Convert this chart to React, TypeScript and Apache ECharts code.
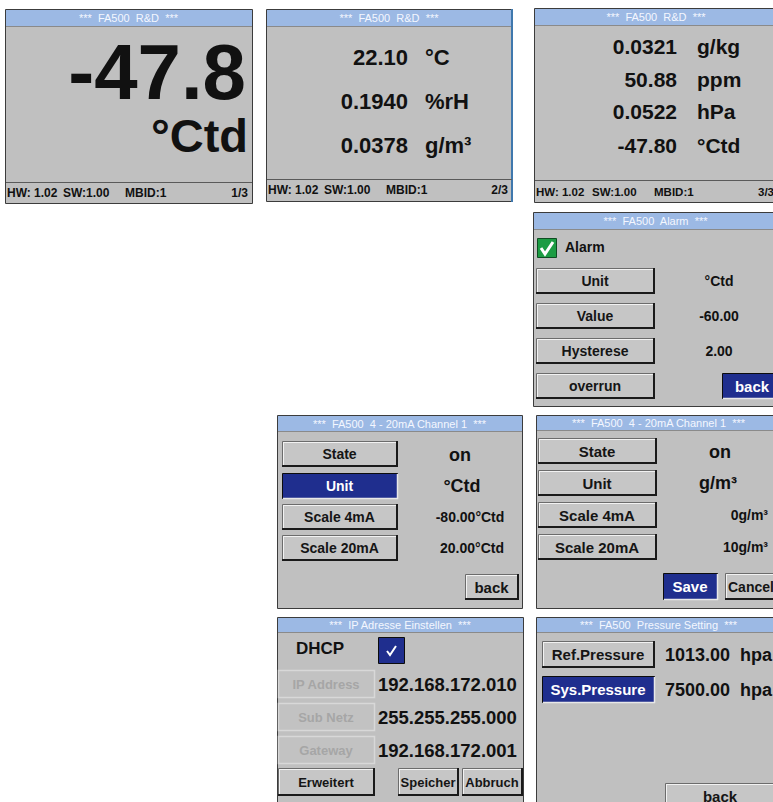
import React, { useEffect, useRef } from "react";
import * as echarts from "echarts";

// ---- data ----
const headerTitles = [
  "***  FA500  R&D  ***",
  "***  FA500  R&D  ***",
  "***  FA500  R&D  ***",
  "***  FA500  Alarm  ***",
  "***  FA500  4 - 20mA Channel 1  ***",
  "***  FA500  4 - 20mA Channel 1  ***",
  "***  IP Adresse Einstellen  ***",
  "***  FA500  Pressure Setting  ***",
];
const footerParts = ["HW: 1.02", "SW:1.00", "MBID:1"];
const pageNumbers = ["1/3", "2/3", "3/3"];
const page1Value = "-47.8";
const page1Unit = "°Ctd";
const page2Values = ["22.10", "0.1940", "0.0378"];
const page2Units = ["°C", "%rH", "g/m³"];
const page3Values = ["0.0321", "50.88", "0.0522", "-47.80"];
const page3Units = ["g/kg", "ppm", "hPa", "°Ctd"];
const alarmLabel = "Alarm";
const alarmButtons = ["Unit", "Value", "Hysterese", "overrun"];
const alarmValues = ["°Ctd", "-60.00", "2.00"];
const channelButtons = ["State", "Unit", "Scale 4mA", "Scale 20mA"];
const channelValuesA = ["on", "°Ctd", "-80.00°Ctd", "20.00°Ctd"];
const channelValuesB = ["on", "g/m³", "0g/m³", "10g/m³"];
const ipLabel = "DHCP";
const ipButtons = ["IP Address", "Sub Netz", "Gateway"];
const ipValues = ["192.168.172.010", "255.255.255.000", "192.168.172.001"];
const ipActions = ["Erweitert", "Speicher", "Abbruch"];
const pressureButtons = ["Ref.Pressure", "Sys.Pressure"];
const pressureValues = ["1013.00  hpa", "7500.00  hpa"];
const actionLabels = { back: "back", save: "Save", cancel: "Cancel" };

// ---- styles ----
const FONT = "'Liberation Sans', Arial, sans-serif";
const BG = "#c0c0c0";
const HEADER = "#9cb9e4";
const NAVY = "#1f2e8e";
const BORDER = "#3c3c3c";

function txt(x: number, y: number, text: string, size: number, o: any = {}) {
  const align = o.align || "left";
  const va = o.va || "middle";
  return {
    type: "text",
    x,
    y,
    z: 10,
    style: {
      text,
      font: `${o.weight || "bold"} ${size}px ${FONT}`,
      fill: o.fill || "#111",
      align,
      verticalAlign: va,
      textAlign: align,
      textVerticalAlign: va,
    },
  };
}

function line(x1: number, y1: number, x2: number, y2: number, stroke: string, lw = 1) {
  return { type: "line", z: 5, shape: { x1, y1, x2, y2 }, style: { stroke, lineWidth: lw } };
}

function panel(x: number, y: number, w: number, h: number, title: string, hh = 17, rightStroke?: string) {
  const els: any[] = [
    { type: "rect", z: 1, shape: { x: x + 0.5, y: y + 0.5, width: w, height: h }, style: { fill: BG, stroke: BORDER, lineWidth: 1 } },
    { type: "rect", z: 2, shape: { x: x + 1, y: y + 1, width: w - 1, height: hh - 1 }, style: { fill: HEADER } },
    line(x + 1, y + hh + 0.5, x + w, y + hh + 0.5, "#8a8a8a", 1),
    txt(x + w / 2, y + hh / 2 + 0.5, title, 11, { align: "center", weight: "normal", fill: "#f4f7ff" }),
  ];
  if (rightStroke) els.push(line(x + w, y, x + w, y + h + 1, rightStroke, 2));
  return els;
}

function button(x: number, y: number, w: number, h: number, label: string, kind: string, size: number, textX?: number) {
  const els: any[] = [];
  const tx = textX === undefined ? x + w / 2 : textX;
  const ta = textX === undefined ? "center" : "left";
  if (kind === "selected") {
    els.push({ type: "rect", z: 3, shape: { x: x + 0.5, y: y + 0.5, width: w, height: h }, style: { fill: NAVY, stroke: "#0c0c0c", lineWidth: 1 } });
    els.push(line(x + 1, y + h + 0.5, x + w + 1, y + h + 0.5, "#e8e8e8", 1.5));
    els.push(line(x + w + 0.5, y + 1, x + w + 0.5, y + h + 1, "#e8e8e8", 1.5));
    els.push(txt(tx, y + h / 2 + 0.5, label, size, { align: ta, fill: "#ffffff" }));
  } else if (kind === "disabled") {
    els.push({ type: "rect", z: 3, shape: { x: x + 0.5, y: y + 0.5, width: w, height: h }, style: { fill: "#c2c2c2", stroke: "#d8d8d8", lineWidth: 1.5 } });
    els.push(txt(tx, y + h / 2 + 0.5, label, size, { align: ta, fill: "#a6a6a6" }));
  } else {
    els.push({ type: "rect", z: 3, shape: { x: x + 0.5, y: y + 0.5, width: w, height: h }, style: { fill: "#c6c6c6", stroke: "#6c6c6c", lineWidth: 1 } });
    els.push(line(x + 1, y + 1.5, x + w, y + 1.5, "#f2f2f2", 1));
    els.push(line(x + 1.5, y + 1, x + 1.5, y + h, "#f2f2f2", 1));
    els.push(line(x, y + h, x + w + 1, y + h, "#1a1a1a", 2));
    els.push(line(x + w, y, x + w, y + h + 1, "#1a1a1a", 2));
    els.push(txt(tx, y + h / 2 + 0.5, label, size, { align: ta, fill: "#151515" }));
  }
  return els;
}

function footer(x: number, w: number, lineY: number, textY: number, page: string, size = 12) {
  const els: any[] = [line(x + 1, lineY + 0.5, x + w, lineY + 0.5, "#5a5a5a", 1)];
  const offs = [2, 58, 120];
  footerParts.forEach((p, i) => els.push(txt(x + offs[i], textY, p, size)));
  els.push(txt(x + w - 4, textY, page, size, { align: "right" }));
  return els;
}

function buildElements() {
  const els: any[] = [];
  // Panel 1
  els.push(...panel(5, 9, 247, 194, headerTitles[0]));
  els.push(txt(246, 72, page1Value, 78, { align: "right" }));
  els.push(txt(248, 135, page1Unit, 47, { align: "right" }));
  els.push(...footer(5, 247, 182, 193, pageNumbers[0]));

  // Panel 2
  els.push(...panel(266, 9, 246, 192, headerTitles[1], 17, "#3f78ad"));
  const p2y = [57, 101, 145];
  page2Values.forEach((v, i) => {
    els.push(txt(408, p2y[i], v, 22, { align: "right" }));
    els.push(txt(425, p2y[i], page2Units[i], 22));
  });
  els.push(...footer(266, 246, 179, 190, pageNumbers[1]));

  // Panel 3
  els.push(...panel(534, 8, 244, 194, headerTitles[2]));
  const p3y = [46, 79, 111, 145];
  page3Values.forEach((v, i) => {
    els.push(txt(677, p3y[i], v, 21, { align: "right" }));
    els.push(txt(697, p3y[i], page3Units[i], 21));
  });
  els.push(...footer(534, 244, 180, 192, pageNumbers[2], 11.5));

  // Panel 4 - Alarm
  els.push(...panel(533, 212, 245, 194, headerTitles[3]));
  els.push({ type: "rect", z: 3, shape: { x: 537.5, y: 238.5, width: 19, height: 19 }, style: { fill: "#1c9c43", stroke: "#0e4d22", lineWidth: 1 } });
  els.push({ type: "polyline", z: 4, shape: { points: [[541, 248], [545, 254], [553, 242]] }, style: { stroke: "#ffffff", lineWidth: 3, fill: "none" } });
  els.push(txt(565, 247, alarmLabel, 14));
  const abY = [268, 303, 338, 373];
  alarmButtons.forEach((b, i) => els.push(...button(536, abY[i], 118, 25, b, "raised", 14)));
  alarmValues.forEach((v, i) => els.push(txt(719, abY[i] + 13, v, 14, { align: "center" })));
  els.push(...button(722, 373, 60, 25, actionLabels.back, "selected", 15));

  // Panel 5 - Channel (°Ctd)
  els.push(...panel(277, 415, 245, 193, headerTitles[4], 16));
  const cbY5 = [441, 473, 504, 535];
  channelButtons.forEach((b, i) => els.push(...button(282, cbY5[i], 115, 25, b, i === 1 ? "selected" : "raised", 14)));
  els.push(txt(460, cbY5[0] + 14, channelValuesA[0], 18, { align: "center" }));
  els.push(txt(462, cbY5[1] + 13, channelValuesA[1], 18, { align: "center" }));
  els.push(txt(470, cbY5[2] + 13, channelValuesA[2], 14, { align: "center" }));
  els.push(txt(472, cbY5[3] + 13, channelValuesA[3], 14, { align: "center" }));
  els.push(...button(465, 574, 53, 25, actionLabels.back, "raised", 15));

  // Panel 6 - Channel (g/m³)
  els.push(...panel(536, 415, 245, 193, headerTitles[5], 15));
  const cbY6 = [438, 470, 502, 534];
  channelButtons.forEach((b, i) => els.push(...button(538, cbY6[i], 118, 25, b, "raised", 15)));
  els.push(txt(720, cbY6[0] + 14, channelValuesB[0], 18, { align: "center" }));
  els.push(txt(718, cbY6[1] + 13, channelValuesB[1], 18, { align: "center" }));
  els.push(txt(768, cbY6[2] + 13, channelValuesB[2], 14, { align: "right" }));
  els.push(txt(768, cbY6[3] + 13, channelValuesB[3], 14, { align: "right" }));
  els.push(...button(663, 573, 54, 26, actionLabels.save, "selected", 15));
  els.push(...button(725, 573, 60, 26, actionLabels.cancel, "raised", 14, 728));

  // Panel 7 - IP
  els.push(...panel(277, 617, 246, 200, headerTitles[6], 15));
  els.push(txt(320, 648, ipLabel, 17, { align: "center" }));
  els.push({ type: "rect", z: 3, shape: { x: 378.5, y: 637.5, width: 26, height: 26 }, style: { fill: NAVY, stroke: "#0c0c0c", lineWidth: 1 } });
  els.push({ type: "polyline", z: 4, shape: { points: [[387, 651], [390, 655], [396, 646]] }, style: { stroke: "#ffffff", lineWidth: 2, fill: "none" } });
  const ipY = [670, 703, 736];
  ipButtons.forEach((b, i) => {
    els.push(...button(278, ipY[i], 96, 27, b, "disabled", 13));
    els.push(txt(378, ipY[i] + 14, ipValues[i], 18.5));
  });
  els.push(...button(278, 768, 96, 27, ipActions[0], "raised", 13));
  els.push(...button(398, 768, 60, 27, ipActions[1], "raised", 13));
  els.push(...button(462, 768, 60, 27, ipActions[2], "raised", 13));

  // Panel 8 - Pressure
  els.push(...panel(536, 617, 245, 200, headerTitles[7], 15));
  const pY = [641, 676];
  pressureButtons.forEach((b, i) => {
    els.push(...button(542, pY[i], 112, 26, b, i === 1 ? "selected" : "raised", 15));
    els.push(txt(665, pY[i] + 14, pressureValues[i], 18));
  });
  els.push(...button(665, 783, 110, 26, actionLabels.back, "raised", 15));
  return els;
}

export default function App() {
  const ref = useRef<HTMLDivElement>(null);
  useEffect(() => {
    if (!ref.current) return;
    const chart = echarts.init(ref.current, undefined, { renderer: "svg", width: 773, height: 802 });
    chart.setOption({
      animation: false,
      backgroundColor: "#ffffff",
      graphic: { elements: buildElements() },
    });
    return () => chart.dispose();
  }, []);
  return (
    <div
      ref={ref}
      style={{ position: "fixed", left: 0, top: 0, width: 773, height: 802, background: "#fff" }}
    />
  );
}
